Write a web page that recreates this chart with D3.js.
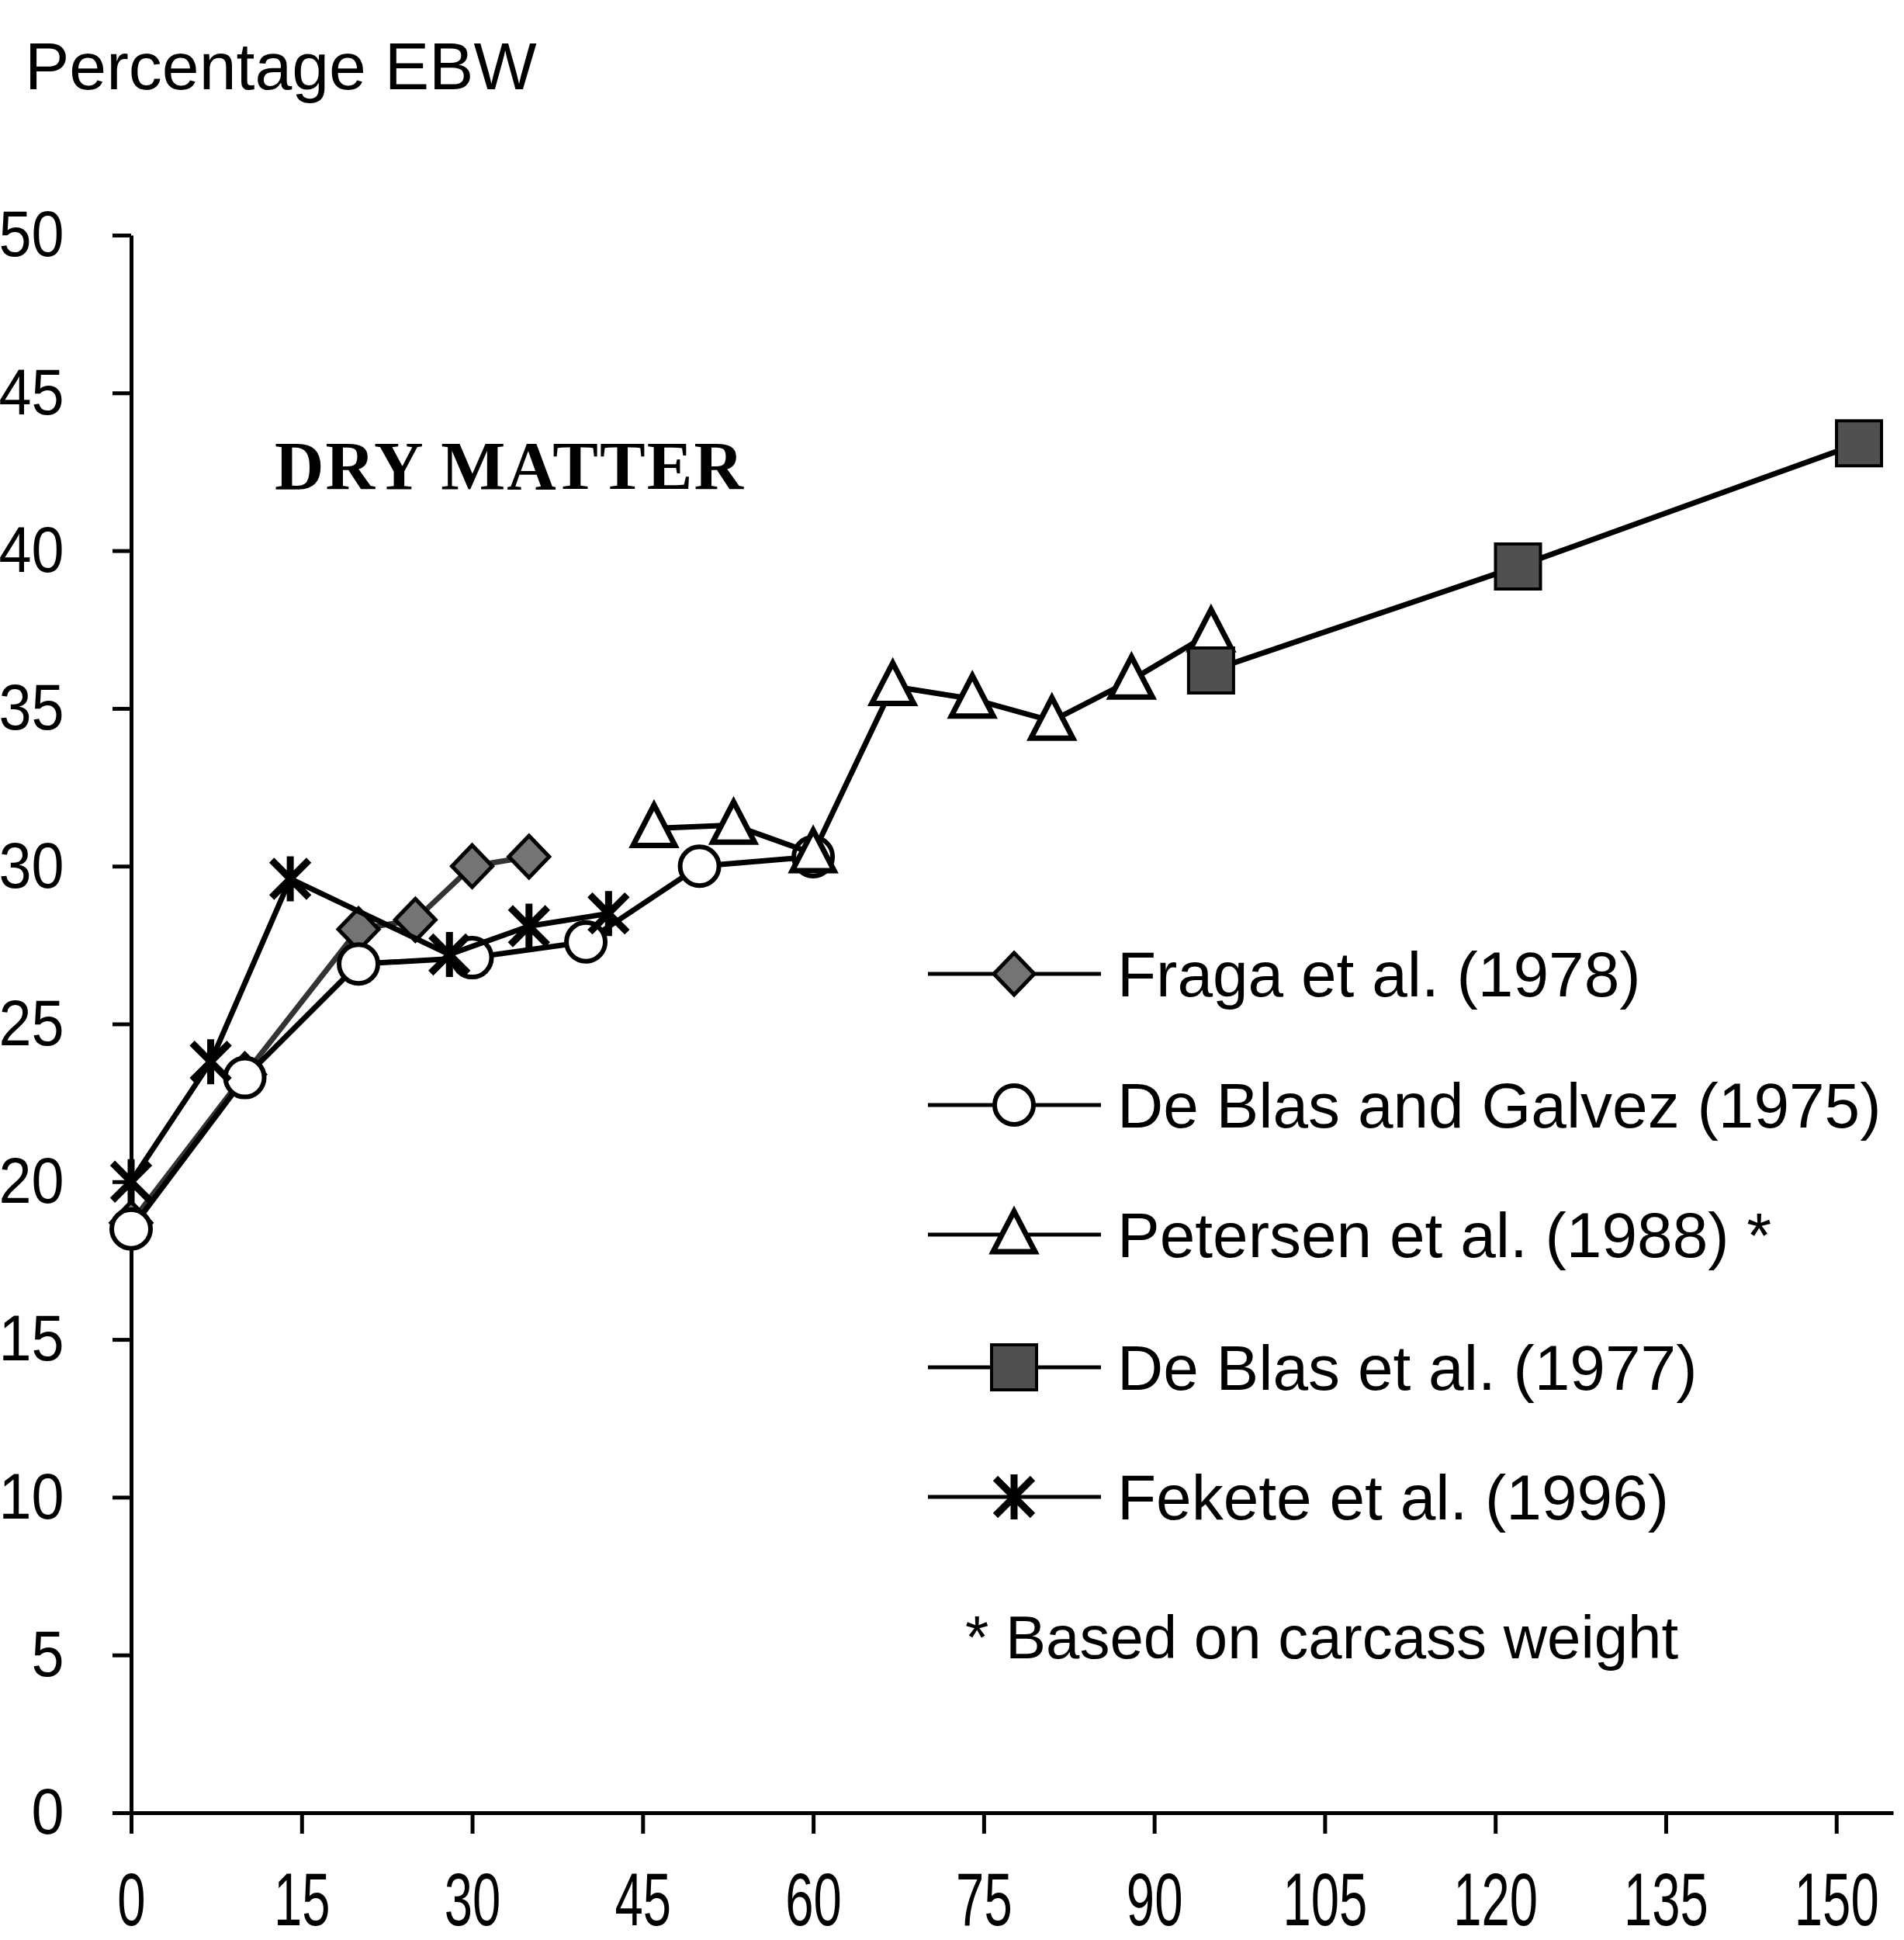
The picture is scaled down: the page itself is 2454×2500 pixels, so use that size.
<!DOCTYPE html>
<html>
<head>
<meta charset="utf-8">
<script src="https://cdn.jsdelivr.net/npm/d3@7"></script>
<style>
  body { margin: 0; background: #fff; }
</style>
</head>
<body>
<div id="chart"></div>
<script>
// weight on x, percentage of EBW on y
const fragaX = [0, 10, 20, 25, 30, 35];
const fragaY = [18.7, 23.4, 28.0, 28.3, 30.0, 30.3];

const galvezX = [0, 10, 20, 30, 40, 50, 60];
const galvezY = [18.5, 23.3, 26.9, 27.1, 27.6, 30.0, 30.3];

const petersenX = [46, 53, 60, 67, 74, 81, 88, 95];
const petersenY = [31.2, 31.3, 30.4, 35.7, 35.3, 34.6, 35.9, 37.4];

const deblasX = [95, 122, 152];
const deblasY = [36.2, 39.5, 43.4];

const feketeX = [0, 7, 14, 28, 35, 42];
const feketeY = [20.0, 23.8, 29.6, 27.2, 28.1, 28.5];

const seriesNames = ["Fraga et al. (1978)", "De Blas and Galvez (1975)", "Petersen et al. (1988) *", "De Blas et al. (1977)", "Fekete et al. (1996)"];
const xTicks = [0, 15, 30, 45, 60, 75, 90, 105, 120, 135, 150];
const yTicks = [0, 5, 10, 15, 20, 25, 30, 35, 40, 45, 50];

const width = 2454, height = 2500;
const sans = "'Liberation Sans', Arial, sans-serif";

const svg = d3.select("#chart").append("svg")
    .attr("width", width)
    .attr("height", height)
    .style("font-family", sans);
svg.append("rect").attr("width", width).attr("height", height).attr("fill", "#fff");

const x = d3.scaleLinear().domain([0, 155]).range([169, 2440]);
const y = d3.scaleLinear().domain([0, 50]).range([2336, 303]);

// markers
function markerPath(kind, s) {
    if (kind === "diamond") return `M0,${-27*s}L${26*s},0L0,${27*s}L${-26*s},0Z`;
    if (kind === "triangle") return `M0,${-30*s}L${27*s},${22*s}L${-27*s},${22*s}Z`;
    if (kind === "square") return `M${-29*s},${-29*s}h${58*s}v${58*s}h${-58*s}Z`;
    if (kind === "star") return `M${-24*s},${-24*s}L${24*s},${24*s}M${24*s},${-24*s}L${-24*s},${24*s}M0,${-29*s}L0,${29*s}`;
    return null;
}

function drawMarker(g, kind, cx, cy, s) {
    if (kind === "circle") {
        g.append("circle").attr("cx", cx).attr("cy", cy).attr("r", 25 * s)
            .attr("fill", "#fff").attr("stroke", "#000").attr("stroke-width", 6);
        return;
    }
    const p = g.append("path").attr("d", markerPath(kind, s))
        .attr("transform", `translate(${cx},${cy})`)
        .attr("stroke", "#000");
    if (kind === "diamond") p.attr("fill", "#747474").attr("stroke-width", 5);
    if (kind === "triangle") p.attr("fill", "#fff").attr("stroke-width", 7).attr("stroke-linejoin", "miter");
    if (kind === "square") p.attr("fill", "#505050").attr("stroke-width", 4);
    if (kind === "star") p.attr("fill", "none").attr("stroke-width", 9);
}

const series = [
    { name: seriesNames[0], xs: fragaX, ys: fragaY, kind: "diamond", line: "#333" },
    { name: seriesNames[1], xs: galvezX, ys: galvezY, kind: "circle", line: "#000" },
    { name: seriesNames[2], xs: petersenX, ys: petersenY, kind: "triangle", line: "#000" },
    { name: seriesNames[3], xs: deblasX, ys: deblasY, kind: "square", line: "#000" },
    { name: seriesNames[4], xs: feketeX, ys: feketeY, kind: "star", line: "#000" }
];

// axes
const yAxis = d3.axisLeft(y).tickValues(yTicks).tickSize(24).tickSizeOuter(0).tickPadding(72);
const gy = svg.append("g").attr("transform", `translate(${x(0)},0)`).call(yAxis);
gy.selectAll("path, line").attr("stroke", "#000").attr("stroke-width", 5);
gy.selectAll("text").attr("font-size", 84).style("font-family", sans).attr("fill", "#000")
    .attr("transform", "scale(0.9,1)");

const xAxis = d3.axisBottom(x).tickValues(xTicks).tickSize(27).tickSizeOuter(0).tickPadding(50);
const gx = svg.append("g").attr("transform", `translate(0,${y(0)})`).call(xAxis);
gx.selectAll("path, line").attr("stroke", "#000").attr("stroke-width", 5);
gx.selectAll("text").attr("font-size", 96).style("font-family", sans).attr("fill", "#000")
    .attr("transform", "scale(0.68,1)");

// titles
svg.append("text").attr("x", 32).attr("y", 115).attr("font-size", 86).text("Percentage EBW");
svg.append("text").attr("x", 354).attr("y", 630)
    .style("font-family", "'Liberation Serif', 'Times New Roman', serif")
    .attr("font-weight", "bold").attr("font-size", 88).attr("letter-spacing", 2).text("DRY MATTER");

// series
const line = d3.line().x(d => x(d[0])).y(d => y(d[1]));
series.forEach(s => {
    const pts = s.xs.map((v, i) => [v, s.ys[i]]);
    const g = svg.append("g");
    g.append("path").datum(pts).attr("d", line)
        .attr("fill", "none").attr("stroke", s.line).attr("stroke-width", 7)
        .attr("stroke-linejoin", "round");
    pts.forEach(p => drawMarker(g, s.kind, x(p[0]), y(p[1]), 1));
});

// legend
const legY = [1255, 1424, 1591, 1762, 1929];
series.forEach((s, i) => {
    const g = svg.append("g");
    g.append("line").attr("x1", 1196).attr("x2", 1419).attr("y1", legY[i]).attr("y2", legY[i])
        .attr("stroke", "#000").attr("stroke-width", 5);
    drawMarker(g, s.kind, 1307, legY[i], 1.0);
    g.append("text").attr("x", 1440).attr("y", legY[i] + 29).attr("font-size", 82).text(s.name);
});
svg.append("text").attr("x", 1244).attr("y", 2137).attr("font-size", 78).text("* Based on carcass weight");
</script>
</body>
</html>
